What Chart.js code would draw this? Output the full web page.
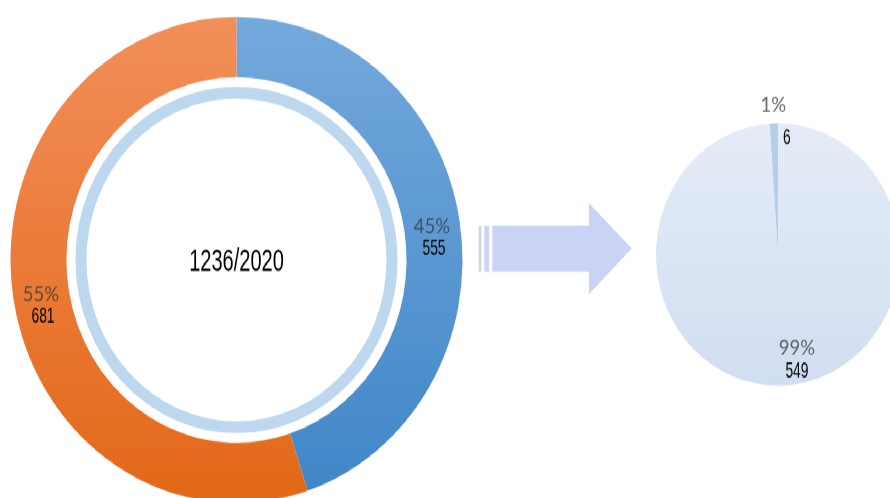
<!DOCTYPE html>
<html>
<head>
<meta charset="utf-8">
<script src="https://cdn.jsdelivr.net/npm/chart.js@4.4.1/dist/chart.umd.min.js"></script>
<style>
  html, body { margin: 0; padding: 0; background: #fff; width: 890px; height: 498px; overflow: hidden; }
  /* the reference is stretched a little vertically, so draw round and stretch the whole stage */
  #stage { position: relative; width: 890px; height: 463px; overflow: hidden; transform: scaleY(1.0755); transform-origin: 0 0; }
  #ringBox { position: absolute; left: 0; top: 0; width: 890px; height: 480px; }
  #pieBox { position: absolute; left: 0; top: 0; width: 910px; height: 463px; }
</style>
</head>
<body>
<div id="stage">
  <div id="ringBox"><canvas id="ringChart"></canvas></div>
  <div id="pieBox"><canvas id="pieChart"></canvas></div>
</div>
<script>
// Data
const ringLabels = ["Blue", "Orange"];
const ringValues = [555, 681];
const ringPercents = ["45%", "55%"];
const ringTotal = "1236/2020";

const pieLabels = ["Rest", "Small"];
const pieValues = [549, 6];
const piePercents = ["99%", "1%"];

const valueFont = '"Liberation Sans", Arial, sans-serif';
const percentFont = 'Lato, "Noto Sans", sans-serif';
const percentColor = "rgba(60,60,60,0.78)";

// draw narrow "Agency"-like numbers: squeeze a regular font horizontally
function drawNarrow(ctx, text, x, y, size, sx) {
  ctx.save();
  ctx.font = size + "px " + valueFont;
  ctx.fillStyle = "#000";
  ctx.textAlign = "center";
  ctx.textBaseline = "alphabetic";
  ctx.translate(x, y + size * 0.716 / 2);
  ctx.scale(sx, 1);
  ctx.fillText(text, 0, 0);
  ctx.restore();
}

function drawPercent(ctx, text, x, y) {
  ctx.save();
  ctx.font = "18.5px " + percentFont;
  ctx.fillStyle = percentColor;
  ctx.textAlign = "center";
  ctx.textBaseline = "alphabetic";
  ctx.fillText(text, x, y + 18.5 * 0.72 / 2);
  ctx.restore();
}

function vGradient(chart, top, bottom) {
  const area = chart.chartArea;
  if (!area) return top;
  const g = chart.ctx.createLinearGradient(0, area.top, 0, area.bottom);
  g.addColorStop(0, top);
  g.addColorStop(1, bottom);
  return g;
}

/* -------------------- Left: doughnut -------------------- */
const ringLabelPlugin = {
  id: "ringLabels",
  afterDatasetsDraw(chart) {
    const ctx = chart.ctx;
    const arcs = chart.getDatasetMeta(0).data;
    arcs.forEach((arc, i) => {
      const mid = (arc.startAngle + arc.endAngle) / 2;
      const r = (arc.innerRadius + arc.outerRadius) / 2;
      const x = arc.x + Math.cos(mid) * r;
      const y = arc.y + Math.sin(mid) * r;
      drawPercent(ctx, ringPercents[i], x, y);
      drawNarrow(ctx, String(ringValues[i]), x + 2, y + 19.5, 21, 0.66);
    });
    const c = arcs[0];
    drawNarrow(ctx, ringTotal, c.x, c.y, 29, 0.69);
  }
};

new Chart(document.getElementById("ringChart"), {
  type: "doughnut",
  data: {
    labels: ringLabels,
    datasets: [
      {
        data: ringValues,
        weight: 56,
        borderWidth: 0,
        backgroundColor: (c) => c.dataIndex === 0
          ? vGradient(c.chart, "#74a9dc", "#3f86c8")
          : vGradient(c.chart, "#f28f5a", "#e36817")
      },
      { data: [1], weight: 9, borderWidth: 0, backgroundColor: "rgba(0,0,0,0)" },
      { data: [1], weight: 11, borderWidth: 0, backgroundColor: "#bdd7ee" }
    ]
  },
  options: {
    responsive: true,
    maintainAspectRatio: false,
    animation: false,
    events: [],
    cutout: "66.4%",
    layout: { padding: { left: 10.5, right: 427.5, top: 15.7, bottom: 12.3 } },
    plugins: { legend: { display: false }, tooltip: { enabled: false } }
  },
  plugins: [ringLabelPlugin]
});

/* -------------------- Right: arrow + pie -------------------- */
const arrowPlugin = {
  id: "arrow",
  beforeDatasetsDraw(chart) {
    const ctx = chart.ctx;
    ctx.save();
    ctx.fillStyle = "#cad3f5";
    ctx.fillRect(478.7, 210.1, 2.6, 42.5);
    ctx.fillRect(484.3, 210.1, 4.7, 42.5);
    ctx.beginPath();
    ctx.moveTo(492.3, 210.1);
    ctx.lineTo(589, 210.1);
    ctx.lineTo(589, 189);
    ctx.lineTo(631.7, 230.9);
    ctx.lineTo(589, 273.6);
    ctx.lineTo(589, 252.6);
    ctx.lineTo(492.3, 252.6);
    ctx.closePath();
    ctx.fill();
    ctx.restore();
  }
};

const pieLabelPlugin = {
  id: "pieLabels",
  afterDatasetsDraw(chart) {
    const ctx = chart.ctx;
    const arcs = chart.getDatasetMeta(0).data;
    // big slice: label inside, towards the bottom
    const a = arcs[0];
    const m0 = (a.startAngle + a.endAngle) / 2;
    const r0 = a.outerRadius * 0.715;
    const x0 = a.x + Math.cos(m0) * r0 + 16;
    const y0 = a.y + Math.sin(m0) * r0;
    drawPercent(ctx, piePercents[0], x0, y0);
    drawNarrow(ctx, String(pieValues[0]), x0, y0 + 19.7, 21, 0.66);
    // small slice: percent outside the top, value just inside
    const b = arcs[1];
    const m1 = (b.startAngle + b.endAngle) / 2;
    const r1 = b.outerRadius + 17;
    const x1 = b.x + Math.cos(m1) * r1;
    const y1 = b.y + Math.sin(m1) * r1;
    drawPercent(ctx, piePercents[1], x1, y1);
    drawNarrow(ctx, String(pieValues[1]), x1 + 13.5, y1 + 28.4, 21, 0.66);
  }
};

new Chart(document.getElementById("pieChart"), {
  type: "pie",
  data: {
    labels: pieLabels,
    datasets: [{
      data: pieValues,
      borderWidth: 0,
      backgroundColor: (c) => c.dataIndex === 0
        ? vGradient(c.chart, "#e5ecf7", "#d1def1")
        : "#b6cceb"
    }]
  },
  options: {
    responsive: true,
    maintainAspectRatio: false,
    animation: false,
    events: [],
    layout: { padding: { left: 656, right: 10, top: 114.6, bottom: 104.4 } },
    plugins: { legend: { display: false }, tooltip: { enabled: false } }
  },
  plugins: [arrowPlugin, pieLabelPlugin]
});
</script>
</body>
</html>
